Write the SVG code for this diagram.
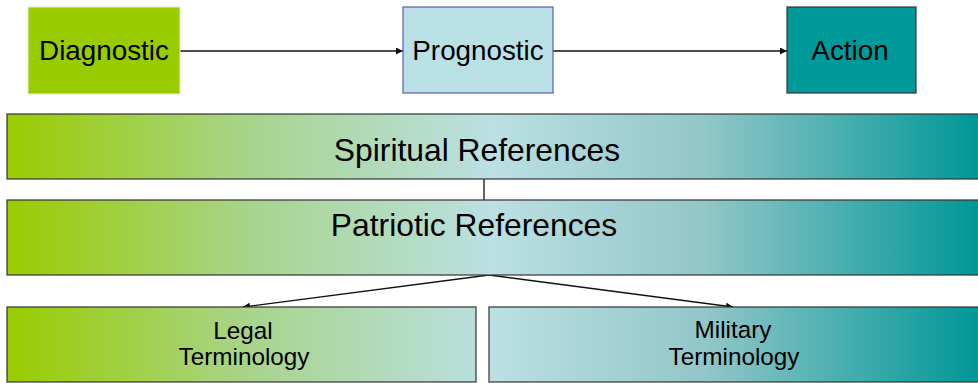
<svg xmlns="http://www.w3.org/2000/svg" width="978" height="383" viewBox="0 0 978 383">
<defs>
<linearGradient id="g" gradientUnits="userSpaceOnUse" x1="7" y1="0" x2="978" y2="0">
<stop offset="0" stop-color="#99cc00"/>
<stop offset="0.25" stop-color="#a8d48c"/>
<stop offset="0.5" stop-color="#bbe0e3"/>
<stop offset="0.72" stop-color="#92c6c8"/>
<stop offset="1" stop-color="#009797"/>
</linearGradient>
<marker id="ah" viewBox="0 0 10 10" refX="10" refY="5" markerWidth="9" markerHeight="7" markerUnits="userSpaceOnUse" orient="auto">
<path d="M0,0 L10,5 L0,10 Z" fill="#111"/>
</marker>
<style>
text{font-family:"Liberation Sans",Arial,sans-serif;fill:#000;text-anchor:middle}
.t{font-size:27.8px}
.b{font-size:31.8px}
.s{font-size:24.3px}
.bar{fill:url(#g);stroke:#333;stroke-width:1.2}
.c{stroke:#111;stroke-width:1.3;fill:none}
</style>
</defs>
<g id="connectors">
<line class="c" x1="180" y1="51" x2="403" y2="51" marker-end="url(#ah)"/>
<line class="c" x1="553" y1="51" x2="787" y2="51" marker-end="url(#ah)"/>
<line class="c" x1="484" y1="179" x2="484" y2="200"/>
<line class="c" x1="489" y1="275" x2="243" y2="307" marker-end="url(#ah)"/>
<line class="c" x1="489" y1="275" x2="733" y2="307" marker-end="url(#ah)"/>
</g>
<g id="diagnostic">
<rect x="28" y="7" width="152" height="87" fill="#99cc00" stroke="#e6f2c0" stroke-width="1"/>
<text class="t" x="104" y="60">Diagnostic</text>
</g>
<g id="prognostic">
<rect x="403" y="7" width="150" height="86" fill="#b9e0e4" stroke="#5a5ab8" stroke-width="1.2"/>
<text class="t" x="478" y="60">Prognostic</text>
</g>
<g id="action">
<rect x="787" y="7" width="129" height="86" fill="#009999" stroke="#333" stroke-width="1.2"/>
<text class="t" x="850" y="60">Action</text>
</g>
<g id="spiritual">
<rect class="bar" x="7" y="114" width="975" height="65"/>
<text class="b" x="477" y="161">Spiritual References</text>
</g>
<g id="patriotic">
<rect class="bar" x="7" y="200" width="975" height="75"/>
<text class="b" x="474" y="236">Patriotic References</text>
</g>
<g id="legal">
<rect class="bar" x="7" y="307" width="469" height="75"/>
<text class="s" x="243" y="339">Legal</text>
<text class="s" x="244" y="365">Terminology</text>
</g>
<g id="military">
<rect class="bar" x="489" y="307" width="493" height="75"/>
<text class="s" x="733" y="338">Military</text>
<text class="s" x="734" y="365">Terminology</text>
</g>
</svg>
